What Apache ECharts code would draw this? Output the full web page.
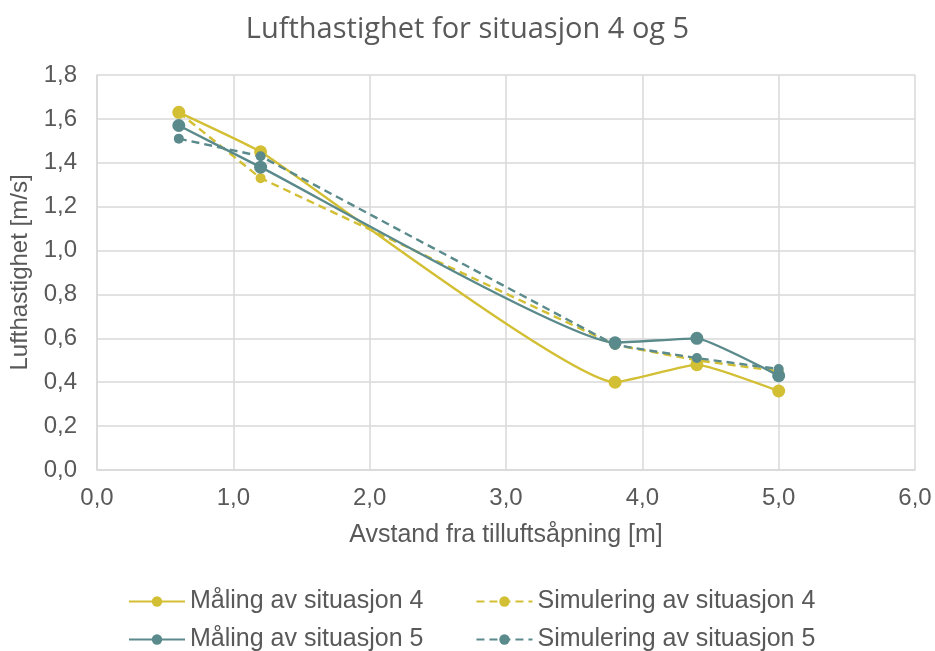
<!DOCTYPE html>
<html>
<head>
<meta charset="utf-8">
<script src="https://cdn.jsdelivr.net/npm/echarts@6/dist/echarts.min.js"></script>
<style>
  html, body { margin: 0; padding: 0; background: #fff; }
  #main { width: 935px; height: 651px; }
</style>
</head>
<body>
<div id="main"></div>
<script>
// avstand fra tilluftsåpning [m]
var avstand = [0.6, 1.2, 3.8, 4.4, 5.0];
// lufthastighet [m/s]
var maling4 = [1.63, 1.45, 0.40, 0.48, 0.36];
var simulering4 = [1.63, 1.33, 0.57, 0.50, 0.45];
var maling5 = [1.57, 1.38, 0.58, 0.60, 0.43];
var simulering5 = [1.51, 1.43, 0.57, 0.51, 0.46];

var gul = '#D3BF34';
var blagronn = '#5A8A8B';
var tekst = '#595959';
var font = '"Liberation Sans", Arial, sans-serif';

function komma(v) { return v.toFixed(1).replace('.', ','); }
function par(ys) { return avstand.map(function (x, i) { return [x, ys[i]]; }); }

var myChart = echarts.init(document.getElementById('main'));

function serie(navn, data, farge, stiplet, glatt, str) {
    return {
        name: navn,
        type: 'line',
        data: par(data),
        smooth: glatt ? 0.12 : false,
        symbol: 'circle',
        symbolSize: str,
        color: farge,
        lineStyle: { color: farge, width: 2.4, type: stiplet ? [8, 5] : 'solid' },
        itemStyle: { color: farge }
    };
}

var legendTekst = { color: tekst, fontSize: 25, fontFamily: font };

myChart.setOption({
    animation: false,
    textStyle: { fontFamily: font },
    title: {
        text: 'Lufthastighet for situasjon 4 og 5',
        left: 'center',
        top: 10,
        textStyle: { color: tekst, fontSize: 29, fontWeight: 'normal', fontFamily: '"Open Sans", sans-serif' }
    },
    legend: [
        {
            data: ['Måling av situasjon 4', 'Simulering av situasjon 4'],
            left: 123, top: 584,
            itemWidth: 56, itemHeight: 13, itemGap: 52,
            textStyle: legendTekst
        },
        {
            data: ['Måling av situasjon 5', 'Simulering av situasjon 5'],
            left: 123, top: 622,
            itemWidth: 56, itemHeight: 13, itemGap: 52,
            textStyle: legendTekst
        }
    ],
    grid: { left: 97, right: 20, top: 75, bottom: 181 },
    xAxis: {
        type: 'value',
        min: 0, max: 6, interval: 1,
        name: 'Avstand fra tilluftsåpning [m]',
        nameLocation: 'middle',
        nameGap: 53,
        nameTextStyle: { color: tekst, fontSize: 25, fontFamily: font },
        axisLine: { lineStyle: { color: '#d9d9d9', width: 1.5 } },
        axisTick: { show: false },
        axisLabel: { color: tekst, fontSize: 24, margin: 16, formatter: komma },
        splitLine: { lineStyle: { color: '#d9d9d9', width: 1.5 } }
    },
    yAxis: {
        type: 'value',
        min: 0, max: 1.8, interval: 0.2,
        name: 'Lufthastighet [m/s]',
        nameLocation: 'middle',
        nameGap: 56,
        nameTextStyle: { color: tekst, fontSize: 24, fontFamily: font },
        axisLine: { show: true, lineStyle: { color: '#d9d9d9', width: 1.5 } },
        axisTick: { show: false },
        axisLabel: { color: tekst, fontSize: 24, margin: 20, formatter: komma },
        splitLine: { lineStyle: { color: '#d9d9d9', width: 1.5 } }
    },
    series: [
        serie('Måling av situasjon 4', maling4, gul, false, true, 13),
        serie('Simulering av situasjon 4', simulering4, gul, true, false, 10),
        serie('Måling av situasjon 5', maling5, blagronn, false, true, 13),
        serie('Simulering av situasjon 5', simulering5, blagronn, true, false, 10)
    ]
});
</script>
</body>
</html>
